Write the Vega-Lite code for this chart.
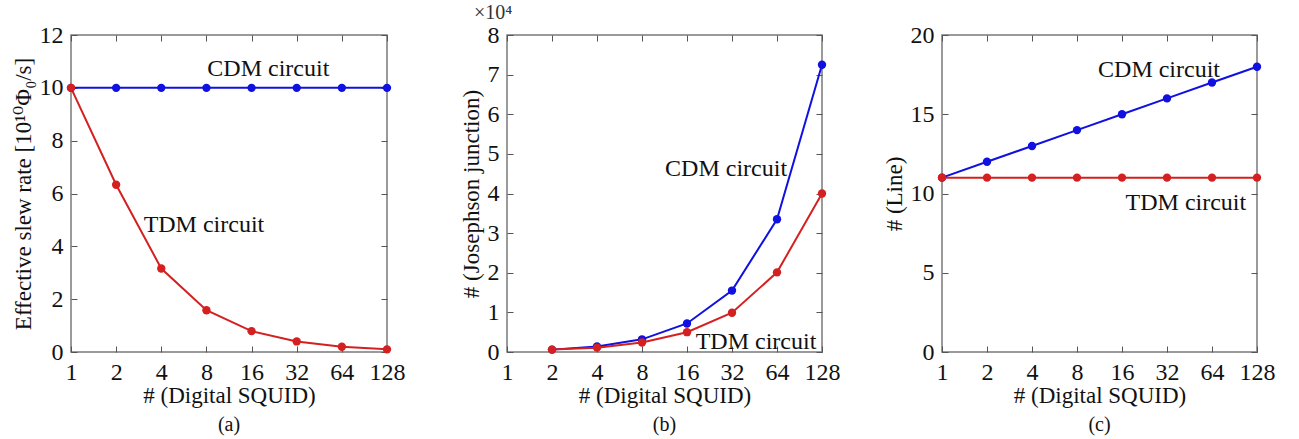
{
  "$schema": "https://vega.github.io/schema/vega-lite/v6.json",
  "background": "white",
  "padding": {"left": 11, "top": 2, "right": 5, "bottom": 5},
  "config": {
    "font": "Liberation Serif, DejaVu Serif",
    "view": {"stroke": "#7a7a7a", "strokeWidth": 1.5},
    "axis": {
      "grid": false,
      "domain": false,
      "ticks": true,
      "tickSize": -6,
      "tickColor": "#555",
      "labelFont": "Liberation Serif, DejaVu Serif",
      "labelFontSize": 24,
      "labelColor": "#111",
      "labelOverlap": false,
      "labelFlush": false,
      "titleFont": "Liberation Serif, DejaVu Serif",
      "titleFontSize": 23,
      "titleFontWeight": "normal",
      "titleColor": "#111",
      "labelPadding": 14
    },
    "text": {"font": "Liberation Serif, DejaVu Serif"},
    "title": {"font": "Liberation Serif, DejaVu Serif", "fontSize": 20, "fontWeight": "normal", "color": "#111"}
  },
  "datasets": {
    "a": [
      {"n": 1, "s": "CDM", "v": 10}, {"n": 2, "s": "CDM", "v": 10}, {"n": 4, "s": "CDM", "v": 10}, {"n": 8, "s": "CDM", "v": 10},
      {"n": 16, "s": "CDM", "v": 10}, {"n": 32, "s": "CDM", "v": 10}, {"n": 64, "s": "CDM", "v": 10}, {"n": 128, "s": "CDM", "v": 10},
      {"n": 1, "s": "TDM", "v": 10}, {"n": 2, "s": "TDM", "v": 6.33}, {"n": 4, "s": "TDM", "v": 3.16}, {"n": 8, "s": "TDM", "v": 1.58},
      {"n": 16, "s": "TDM", "v": 0.79}, {"n": 32, "s": "TDM", "v": 0.4}, {"n": 64, "s": "TDM", "v": 0.2}, {"n": 128, "s": "TDM", "v": 0.1}
    ],
    "b": [
      {"n": 2, "s": "CDM", "v": 0.06}, {"n": 4, "s": "CDM", "v": 0.14}, {"n": 8, "s": "CDM", "v": 0.32}, {"n": 16, "s": "CDM", "v": 0.72},
      {"n": 32, "s": "CDM", "v": 1.55}, {"n": 64, "s": "CDM", "v": 3.35}, {"n": 128, "s": "CDM", "v": 7.25},
      {"n": 2, "s": "TDM", "v": 0.06}, {"n": 4, "s": "TDM", "v": 0.11}, {"n": 8, "s": "TDM", "v": 0.24}, {"n": 16, "s": "TDM", "v": 0.5},
      {"n": 32, "s": "TDM", "v": 0.99}, {"n": 64, "s": "TDM", "v": 2.01}, {"n": 128, "s": "TDM", "v": 4.0}
    ],
    "c": [
      {"n": 1, "s": "CDM", "v": 11}, {"n": 2, "s": "CDM", "v": 12}, {"n": 4, "s": "CDM", "v": 13}, {"n": 8, "s": "CDM", "v": 14},
      {"n": 16, "s": "CDM", "v": 15}, {"n": 32, "s": "CDM", "v": 16}, {"n": 64, "s": "CDM", "v": 17}, {"n": 128, "s": "CDM", "v": 18},
      {"n": 1, "s": "TDM", "v": 11}, {"n": 2, "s": "TDM", "v": 11}, {"n": 4, "s": "TDM", "v": 11}, {"n": 8, "s": "TDM", "v": 11},
      {"n": 16, "s": "TDM", "v": 11}, {"n": 32, "s": "TDM", "v": 11}, {"n": 64, "s": "TDM", "v": 11}, {"n": 128, "s": "TDM", "v": 11}
    ],
    "la": [{"n": 20.7, "v": 10.7, "t": "CDM circuit"}, {"n": 7.7, "v": 4.8, "t": "TDM circuit"}],
    "lb": [{"n": 29.2, "v": 4.62, "t": "CDM circuit"}, {"n": 46.3, "v": 0.25, "t": "TDM circuit"}],
    "lc": [{"n": 28.3, "v": 17.8, "t": "CDM circuit"}, {"n": 42.8, "v": 9.4, "t": "TDM circuit"}],
    "mb": [{"n": 1, "v": 8, "t": "×10⁴"}]
  },
  "hconcat": [
    {
      "width": 316, "height": 317,
      "title": {"text": "(a)", "orient": "bottom", "offset": 8},
      "resolve": {"axis": {"x": "independent", "y": "independent"}},
      "layer": [
        {
          "data": {"name": "a"},
          "mark": {"type": "line", "strokeWidth": 2, "point": {"filled": true, "size": 70}},
          "encoding": {
            "x": {"field": "n", "type": "quantitative", "scale": {"type": "log", "base": 2, "domain": [1, 128], "nice": false},
                  "axis": {"values": [1, 2, 4, 8, 16, 32, 64, 128], "format": "d", "title": "# (Digital SQUID)", "titlePadding": 0}},
            "y": {"field": "v", "type": "quantitative", "scale": {"domain": [0, 12], "nice": false},
                  "axis": {"values": [0, 2, 4, 6, 8, 10, 12], "title": "Effective slew rate [10¹⁰Φ₀/s]", "titlePadding": 4}},
            "color": {"field": "s", "type": "nominal", "scale": {"domain": ["CDM", "TDM"], "range": ["#1010e0", "#d42020"]}, "legend": null}
          }
        },
        {
          "data": {"name": "a"},
          "mark": {"type": "point", "opacity": 0},
          "encoding": {
            "x": {"field": "n", "type": "quantitative", "axis": {"orient": "top", "values": [1, 2, 4, 8, 16, 32, 64, 128], "labels": false, "title": null}},
            "y": {"field": "v", "type": "quantitative", "axis": {"orient": "right", "values": [0, 2, 4, 6, 8, 10, 12], "labels": false, "title": null}}
          }
        },
        {
          "data": {"name": "la"},
          "mark": {"type": "text", "fontSize": 24, "color": "#111", "font": "Liberation Serif, DejaVu Serif"},
          "encoding": {
            "x": {"field": "n", "type": "quantitative", "axis": null},
            "y": {"field": "v", "type": "quantitative", "axis": null},
            "text": {"field": "t"}
          }
        }
      ]
    },
    {
      "width": 315, "height": 317,
      "title": {"text": "(b)", "orient": "bottom", "offset": 8},
      "resolve": {"axis": {"x": "independent", "y": "independent"}},
      "layer": [
        {
          "data": {"name": "b"},
          "mark": {"type": "line", "strokeWidth": 2, "point": {"filled": true, "size": 70}},
          "encoding": {
            "x": {"field": "n", "type": "quantitative", "scale": {"type": "log", "base": 2, "domain": [1, 128], "nice": false},
                  "axis": {"values": [1, 2, 4, 8, 16, 32, 64, 128], "format": "d", "title": "# (Digital SQUID)", "titlePadding": 0}},
            "y": {"field": "v", "type": "quantitative", "scale": {"domain": [0, 8], "nice": false},
                  "axis": {"values": [0, 1, 2, 3, 4, 5, 6, 7, 8], "title": "# (Josephson junction)", "titlePadding": 4}},
            "color": {"field": "s", "type": "nominal", "scale": {"domain": ["CDM", "TDM"], "range": ["#1010e0", "#d42020"]}, "legend": null}
          }
        },
        {
          "data": {"name": "b"},
          "mark": {"type": "point", "opacity": 0},
          "encoding": {
            "x": {"field": "n", "type": "quantitative", "axis": {"orient": "top", "values": [1, 2, 4, 8, 16, 32, 64, 128], "labels": false, "title": null}},
            "y": {"field": "v", "type": "quantitative", "axis": {"orient": "right", "values": [0, 1, 2, 3, 4, 5, 6, 7, 8], "labels": false, "title": null}}
          }
        },
        {
          "data": {"name": "lb"},
          "mark": {"type": "text", "fontSize": 24, "color": "#111", "font": "Liberation Serif, DejaVu Serif"},
          "encoding": {
            "x": {"field": "n", "type": "quantitative", "axis": null},
            "y": {"field": "v", "type": "quantitative", "axis": null},
            "text": {"field": "t"}
          }
        },
        {
          "data": {"name": "mb"},
          "mark": {"type": "text", "fontSize": 20, "color": "#333", "align": "left", "dx": -33, "dy": -22, "font": "Liberation Serif, DejaVu Serif"},
          "encoding": {
            "x": {"field": "n", "type": "quantitative", "axis": null},
            "y": {"field": "v", "type": "quantitative", "axis": null},
            "text": {"field": "t"}
          }
        }
      ]
    },
    {
      "width": 315, "height": 317,
      "title": {"text": "(c)", "orient": "bottom", "offset": 8},
      "resolve": {"axis": {"x": "independent", "y": "independent"}},
      "layer": [
        {
          "data": {"name": "c"},
          "mark": {"type": "line", "strokeWidth": 2, "point": {"filled": true, "size": 70}},
          "encoding": {
            "x": {"field": "n", "type": "quantitative", "scale": {"type": "log", "base": 2, "domain": [1, 128], "nice": false},
                  "axis": {"values": [1, 2, 4, 8, 16, 32, 64, 128], "format": "d", "title": "# (Digital SQUID)", "titlePadding": 0}},
            "y": {"field": "v", "type": "quantitative", "scale": {"domain": [0, 20], "nice": false},
                  "axis": {"values": [0, 5, 10, 15, 20], "title": "# (Line)", "titlePadding": 4}},
            "color": {"field": "s", "type": "nominal", "scale": {"domain": ["CDM", "TDM"], "range": ["#1010e0", "#d42020"]}, "legend": null}
          }
        },
        {
          "data": {"name": "c"},
          "mark": {"type": "point", "opacity": 0},
          "encoding": {
            "x": {"field": "n", "type": "quantitative", "axis": {"orient": "top", "values": [1, 2, 4, 8, 16, 32, 64, 128], "labels": false, "title": null}},
            "y": {"field": "v", "type": "quantitative", "axis": {"orient": "right", "values": [0, 5, 10, 15, 20], "labels": false, "title": null}}
          }
        },
        {
          "data": {"name": "lc"},
          "mark": {"type": "text", "fontSize": 24, "color": "#111", "font": "Liberation Serif, DejaVu Serif"},
          "encoding": {
            "x": {"field": "n", "type": "quantitative", "axis": null},
            "y": {"field": "v", "type": "quantitative", "axis": null},
            "text": {"field": "t"}
          }
        }
      ]
    }
  ],
  "bounds": "flush",
  "spacing": 120
}
